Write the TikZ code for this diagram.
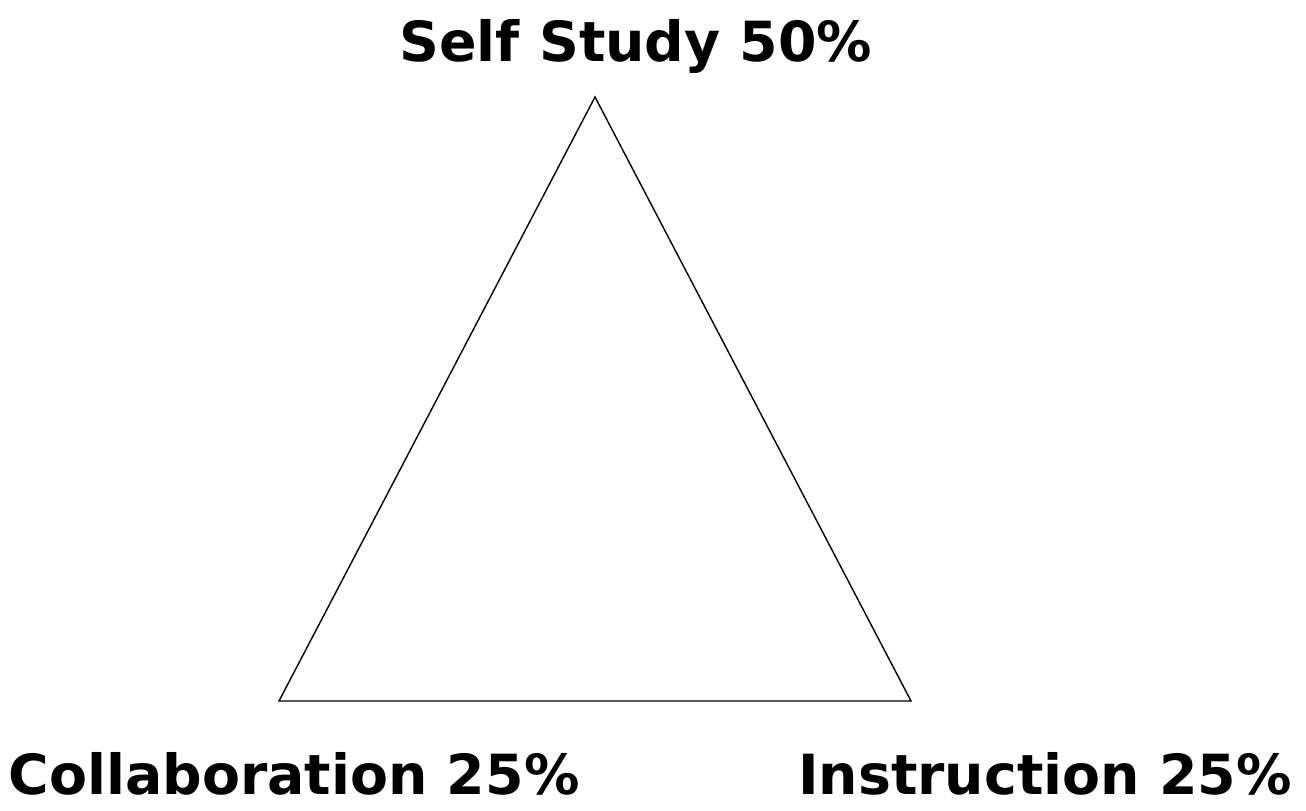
\documentclass[tikz,border=0pt]{standalone}
\usepackage{fontspec}
\setmainfont{DejaVu Sans}
\usetikzlibrary{positioning}
\tikzset{lbl/.style={font=\bfseries\fontsize{31.5}{36}\selectfont, inner sep=0pt}}

\begin{document}
\begin{tikzpicture}[x=0.02cm, y=-0.02cm]
  % frame
  \useasboundingbox (0,0) rectangle (1306,811);
  % corners
  \coordinate (top) at (595,97);
  \coordinate (bl) at (279,701);
  \coordinate (br) at (911,701);
  % triangle
  \draw[line width=0.8pt] (top) -- (br) -- (bl) -- cycle;
  % labels
  \node[lbl] (self) at (636,46) {Self Study 50\%};
  \node[lbl] (collab) at (294,774) {Collaboration 25\%};
  \node[lbl] (instr) at (1045,774) {Instruction 25\%};
\end{tikzpicture}
\end{document}
